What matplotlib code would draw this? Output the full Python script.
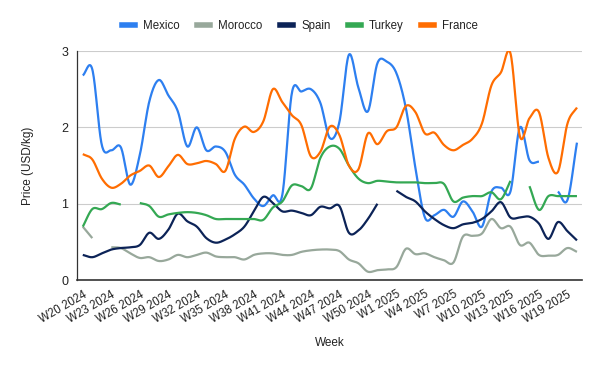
import numpy as np
import matplotlib
matplotlib.use("Agg")
import matplotlib.pyplot as plt
from matplotlib.lines import Line2D

nan = np.nan
weeks = ([f"W{w} 2024" for w in range(20, 53)] + [f"W{w} 2025" for w in range(1, 21)])

mexico = [2.68, 2.76, 1.77, 1.70, 1.74, 1.25, 1.64, 2.34, 2.62, 2.42,
          2.21, 1.75, 2.00, 1.70, 1.75, 1.68, 1.38, 1.25, 1.07, 0.97,
          1.11, 1.12, 2.45, 2.47, 2.50, 2.32, 1.86, 2.07, 2.95, 2.52,
          2.21, 2.84, 2.86, 2.71, 2.25, 1.47, 0.82, 0.85, 0.92, 0.83,
          1.03, 0.90, 0.70, 1.16, 1.21, 1.16, 2.00, 1.57, 1.55, nan,
          1.16, 1.05, 1.80]
morocco = [0.70, 0.55, nan, 0.43, 0.42, 0.35, 0.29, 0.30, 0.25, 0.27,
           0.33, 0.30, 0.33, 0.36, 0.31, 0.30, 0.30, 0.27, 0.33, 0.35,
           0.35, 0.33, 0.33, 0.37, 0.39, 0.40, 0.40, 0.38, 0.27, 0.22,
           0.11, 0.13, 0.14, 0.17, 0.41, 0.34, 0.35, 0.30, 0.26, 0.23,
           0.57, 0.58, 0.61, 0.80, 0.68, 0.70, 0.46, 0.49, 0.33, 0.32,
           0.33, 0.42, 0.37]
spain = [0.33, 0.30, 0.35, 0.40, 0.42, 0.43, 0.46, 0.62, 0.54, 0.66,
         0.87, 0.77, 0.70, 0.55, 0.49, 0.53, 0.60, 0.70, 0.90, 1.09,
         1.01, 0.90, 0.91, 0.88, 0.85, 0.96, 0.94, 0.97, 0.62, 0.65,
         0.80, 1.00, nan, 1.17, 1.09, 1.03, 0.90, 0.80, 0.72, 0.68,
         0.73, 0.75, 0.80, 0.90, 1.02, 0.82, 0.82, 0.83, 0.74, 0.54,
         0.76, 0.64, 0.52]
turkey = [0.70, 0.93, 0.93, 1.01, 0.99, nan, 1.01, 0.97, 0.83, 0.86,
          0.88, 0.89, 0.88, 0.85, 0.80, 0.80, 0.80, 0.80, 0.80, 0.79,
          0.95, 1.03, 1.24, 1.23, 1.20, 1.60, 1.75, 1.72, 1.50, 1.33,
          1.27, 1.30, 1.29, 1.28, 1.28, 1.28, 1.27, 1.27, 1.26, 1.03,
          1.08, 1.10, 1.10, 1.15, 1.06, 1.30, nan, 1.23, 0.92, 1.10,
          1.10, 1.10, 1.10]
france = [1.65, 1.58, 1.33, 1.21, 1.26, 1.37, 1.43, 1.50, 1.35, 1.49,
          1.64, 1.52, 1.53, 1.56, 1.52, 1.43, 1.85, 2.01, 1.94, 2.08,
          2.50, 2.33, 2.16, 2.03, 1.62, 1.68, 2.01, 1.90, 1.50, 1.45,
          1.92, 1.78, 1.95, 2.00, 2.28, 2.20, 1.92, 1.93, 1.77, 1.70,
          1.77, 1.85, 2.05, 2.55, 2.72, 2.97, 1.88, 2.12, 2.20, 1.60,
          1.42, 2.05, 2.26]

series_names = ["Mexico", "Morocco", "Spain", "Turkey", "France"]
series_values = [mexico, morocco, spain, turkey, france]
colors = ["#2d7ff0", "#98a89b", "#0c2357", "#34a853", "#ff6d01"]

plt.rcParams['font.family'] = ['Liberation Sans', 'DejaVu Sans']

fig = plt.figure(figsize=(6.0, 3.71), dpi=100)
ax = fig.add_axes([0.128, 0.245, 0.842, 0.6175])


def smooth_runs(y):
    y = np.asarray(y, dtype=float)
    x = np.arange(len(y), dtype=float)
    valid = ~np.isnan(y)
    runs = []
    i = 0
    n = len(y)
    while i < n:
        if valid[i]:
            j = i
            while j + 1 < n and valid[j + 1]:
                j += 1
            runs.append((i, j))
            i = j + 1
        else:
            i += 1
    out = []
    for a, b in runs:
        xs = x[a:b + 1]
        ys = y[a:b + 1]
        m = len(ys)
        if m == 1:
            out.append((xs, ys))
            continue
        t = np.zeros(m)
        for k in range(m):
            if k == 0:
                t[k] = ys[1] - ys[0]
            elif k == m - 1:
                t[k] = ys[-1] - ys[-2]
            else:
                t[k] = (ys[k + 1] - ys[k - 1]) / 2.0
        px, py = [], []
        s = np.linspace(0, 1, 20)
        for k in range(m - 1):
            p0, p3 = ys[k], ys[k + 1]
            p1 = p0 + t[k] / 3.0
            p2 = p3 - t[k + 1] / 3.0
            yy = ((1 - s) ** 3) * p0 + 3 * ((1 - s) ** 2) * s * p1 + 3 * (1 - s) * s ** 2 * p2 + s ** 3 * p3
            xx = xs[k] + s
            if k > 0:
                yy, xx = yy[1:], xx[1:]
            px.extend(xx)
            py.extend(yy)
        out.append((np.array(px), np.array(py)))
    return out


for name, vals, col in zip(series_names, series_values, colors):
    for xx, yy in smooth_runs(vals):
        ax.plot(xx, yy, color=col, lw=1.6, solid_capstyle='butt', zorder=3)

ax.set_xlim(-0.63, 52.53)
ax.set_ylim(0, 3)
ax.set_yticks([0, 1, 2, 3])
ax.set_yticklabels(["0", "1", "2", "3"])
ax.grid(axis='y', color='#cccccc', lw=0.8, zorder=0)
ax.set_axisbelow(True)
for sp in ['top', 'right']:
    ax.spines[sp].set_visible(False)
ax.spines['left'].set_color('#333333')
ax.spines['bottom'].set_color('#333333')
ax.spines['left'].set_linewidth(0.9)
ax.spines['bottom'].set_linewidth(1.2)

tick_idx = list(range(0, len(weeks), 3))
ax.set_xticks(tick_idx)
ax.set_xticklabels([weeks[i] for i in tick_idx], rotation=30, ha='right',
                   rotation_mode='anchor', fontsize=8.3, color='#222222')
ax.tick_params(axis='x', length=0, pad=6)
ax.tick_params(axis='y', length=0, pad=6, labelsize=9, labelcolor='#222222')

ax.set_ylabel("Price (USD/kg)", fontsize=8.5, color='#222222', labelpad=20)
fig.text(0.55, 0.075, "Week", fontsize=8.5, color='#222222', ha='center', va='center')

handles = [Line2D([0], [0], color=c, lw=4) for c in colors]
fig.legend(handles, series_names, loc='center', bbox_to_anchor=(0.5, 0.93),
           ncol=5, frameon=False, fontsize=8.3, handlelength=1.15,
           handletextpad=0.7, columnspacing=1.5, labelcolor='#222222')

fig.savefig("out.png", dpi=100)
